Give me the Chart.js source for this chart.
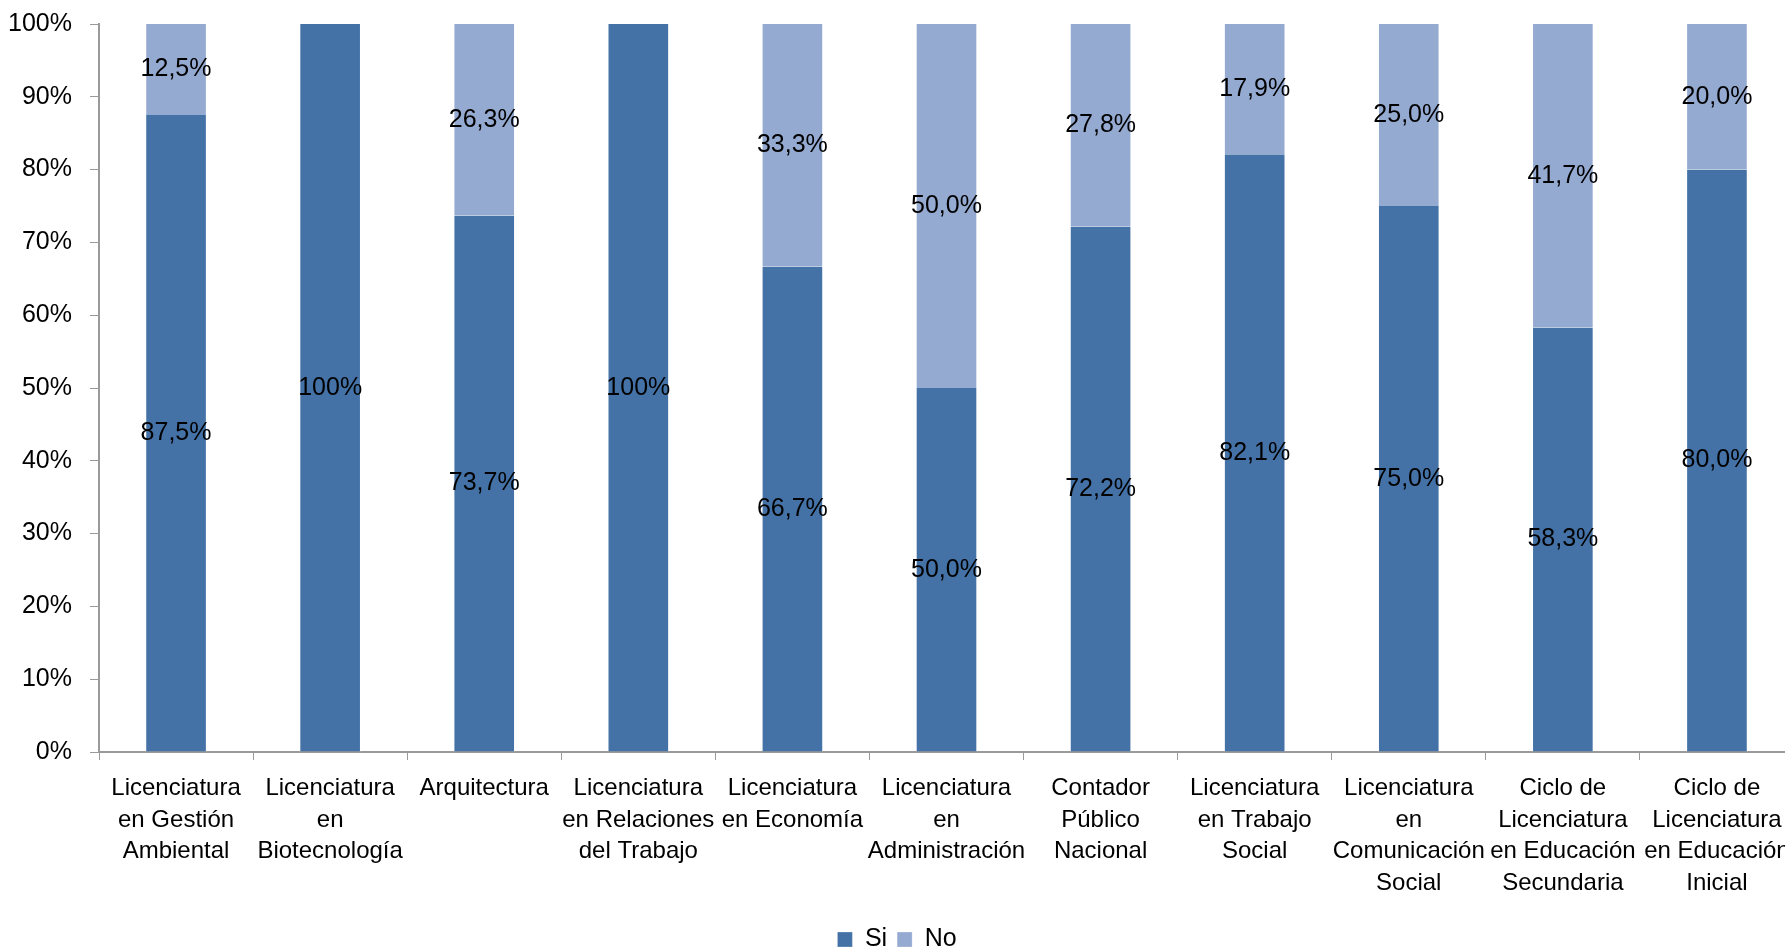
<!DOCTYPE html>
<html>
<head>
<meta charset="utf-8">
<script src="https://cdn.jsdelivr.net/npm/chart.js@4.4.0/dist/chart.umd.min.js"></script>
<style>
  html, body { margin: 0; padding: 0; background: #fff; overflow: hidden; }
  #wrap { position: relative; width: 1830px; height: 951px; }
</style>
</head>
<body>
<div id="wrap"><canvas id="myChart"></canvas></div>
<script>
// data
var categories = [
    ['Licenciatura', 'en Gestión', 'Ambiental'],
    ['Licenciatura', 'en', 'Biotecnología'],
    ['Arquitectura'],
    ['Licenciatura', 'en Relaciones', 'del Trabajo'],
    ['Licenciatura', 'en Economía'],
    ['Licenciatura', 'en', 'Administración'],
    ['Contador', 'Público', 'Nacional'],
    ['Licenciatura', 'en Trabajo', 'Social'],
    ['Licenciatura', 'en', 'Comunicación', 'Social'],
    ['Ciclo de', 'Licenciatura', 'en Educación', 'Secundaria'],
    ['Ciclo de', 'Licenciatura', 'en Educación', 'Inicial']
];
var siValues = [87.5, 100, 73.7, 100, 66.7, 50.0, 72.2, 82.1, 75.0, 58.3, 80.0];
var noValues = [12.5, 0, 26.3, 0, 33.3, 50.0, 27.8, 17.9, 25.0, 41.7, 20.0];
var yTicks = [0, 10, 20, 30, 40, 50, 60, 70, 80, 90, 100];

var FONT = "'Liberation Sans', Arial, sans-serif";
var AXIS_GRAY = '#9a9a9a';

Chart.defaults.font.family = FONT;
Chart.defaults.color = '#000';

function fmtLabel(v) {
    if (v === 100) return '100%';
    return v.toFixed(1).replace('.', ',') + '%';
}

// simple inline data labels (no datalabels plugin available)
var barLabels = {
    id: 'barLabels',
    afterDatasetsDraw: function (chart) {
        var ctx = chart.ctx;
        ctx.save();
        ctx.font = '25px ' + FONT;
        ctx.fillStyle = '#000';
        ctx.textAlign = 'center';
        ctx.textBaseline = 'middle';
        chart.data.datasets.forEach(function (ds, i) {
            var meta = chart.getDatasetMeta(i);
            meta.data.forEach(function (bar, j) {
                var v = ds.data[j];
                if (!v) return;
                ctx.fillText(fmtLabel(v), bar.x, (bar.y + bar.base) / 2);
            });
        });
        ctx.restore();
    }
};

var ctx = document.getElementById('myChart');

var stackedChart = new Chart(ctx, {
    type: 'bar',
    data: {
        labels: categories,
        datasets: [{
            label: 'Si',
            data: siValues,
            backgroundColor: '#4472a6',
            borderColor: 'rgba(255,255,255,0.55)',
            borderWidth: { left: 1, right: 1, top: 0, bottom: 0 }
        }, {
            label: 'No',
            data: noValues,
            backgroundColor: '#95aad1',
            borderColor: 'rgba(255,255,255,0.55)',
            borderWidth: { left: 1, right: 1, top: 0, bottom: 0 }
        }]
    },
    plugins: [barLabels],
    options: {
        responsive: true,
        maintainAspectRatio: false,
        animation: false,
        devicePixelRatio: 1,
        layout: { padding: { top: 24, right: 36, left: 0, bottom: -11 } },
        datasets: {
            bar: { barPercentage: 0.4, categoryPercentage: 1.0 }
        },
        scales: {
            x: {
                stacked: true,
                grid: { drawOnChartArea: false, drawTicks: true, tickLength: 8, color: AXIS_GRAY, offset: true },
                border: { color: AXIS_GRAY, width: 2 },
                ticks: {
                    autoSkip: false, maxRotation: 0, minRotation: 0,
                    font: { size: 24, lineHeight: 1.31 },
                    color: '#000',
                    padding: 13
                },
                afterFit: function (s) { s.height = 165; }
            },
            y: {
                stacked: true,
                min: 0,
                max: 100,
                afterBuildTicks: function (s) {
                    s.ticks = yTicks.map(function (v) { return { value: v }; });
                },
                grid: { drawOnChartArea: false, drawTicks: true, tickLength: 9, color: AXIS_GRAY },
                border: { color: AXIS_GRAY, width: 2 },
                ticks: {
                    font: { size: 25, lineHeight: 0.4 },
                    color: '#000',
                    padding: 18,
                    callback: function (v) { return v + '%'; }
                },
                afterFit: function (s) { s.width = 99; }
            }
        },
        plugins: {
            legend: {
                position: 'bottom',
                labels: {
                    boxWidth: 15,
                    boxHeight: 15,
                    padding: 10,
                    font: { size: 25 },
                    color: '#000'
                }
            },
            tooltip: { enabled: false }
        }
    }
});
</script>
</body>
</html>
